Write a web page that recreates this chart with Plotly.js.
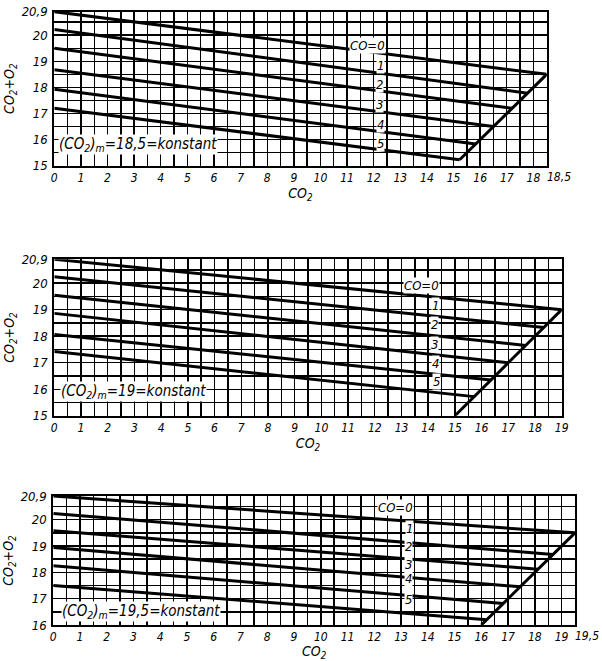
<!DOCTYPE html>
<html>
<head>
<meta charset="utf-8">
<script src="https://cdn.plot.ly/plotly-3.0.1.min.js"></script>
<style>html,body{margin:0;padding:0;background:#fff;}#chart{width:602px;height:661px;}</style>
</head>
<body>
<div id="chart"></div>
<script>
// ---- data ----
const coLevels = [0, 1, 2, 3, 4, 5];

// Panel 1: (CO2)m = 18.5
const p1Start = [20.9, 20.22, 19.5, 18.68, 17.93, 17.2];     // CO2+O2 at CO2 = 0
const p1EndCO2 = [18.5, 17.78, 17.2, 16.5, 15.83, 15.23];    // CO2 at end (O2 = 0)
const p1EndSum = [18.5, 17.78, 17.2, 16.5, 15.83, 15.23];
const p1Diag = { x: [18.5, 15.23], y: [18.5, 15.23] };

// Panel 2: (CO2)m = 19
const p2Start = [20.9, 20.24, 19.54, 18.86, 18.06, 17.42];
const p2EndCO2 = [19, 18.33, 17.65, 17.0, 16.35, 15.72];
const p2EndSum = [19, 18.33, 17.65, 17.0, 16.35, 15.72];
const p2Diag = { x: [19, 15], y: [19, 15] };

// Panel 3: (CO2)m = 19.5
const p3Start = [20.9, 20.24, 19.58, 18.94, 18.25, 17.5];
const p3EndCO2 = [19.5, 18.68, 18.12, 17.45, 16.82, 16.2];
const p3EndSum = [19.5, 18.68, 18.12, 17.45, 16.82, 16.2];
const p3Diag = { x: [19.5, 16], y: [19.5, 16] };

// tick labels (the half-value end labels are drawn left-aligned at the axis end)
const x1TickVals = [0,1,2,3,4,5,6,7,8,9,10,11,12,13,14,15,16,17,18];
const x1TickText = ['0','1','2','3','4','5','6','7','8','9','10','11','12','13','14','15','16','17','18'];
const x1EndTick = { value: 18.5, text: '18,5' };
const x2TickVals = [0,1,2,3,4,5,6,7,8,9,10,11,12,13,14,15,16,17,18,19];
const x2TickText = ['0','1','2','3','4','5','6','7','8','9','10','11','12','13','14','15','16','17','18','19'];
const x3TickVals = [0,1,2,3,4,5,6,7,8,9,10,11,12,13,14,15,16,17,18,19];
const x3TickText = ['0','1','2','3','4','5','6','7','8','9','10','11','12','13','14','15','16','17','18','19'];
const x3EndTick = { value: 19.5, text: '19,5' };
const y12TickVals = [15,16,17,18,19,20,20.9];
const y12TickText = ['15','16','17','18','19','20','20,9'];
const y3TickVals = [16,17,18,19,20,20.9];
const y3TickText = ['16','17','18','19','20','20,9'];

const coLabelText = ['CO=0', '1', '2', '3', '4', '5'];
const constLabels = ['(CO<sub>2</sub>)<sub>m</sub>=18,5=konstant', '(CO<sub>2</sub>)<sub>m</sub>=19=konstant', '(CO<sub>2</sub>)<sub>m</sub>=19,5=konstant'];

// ---- build traces ----
const traces = [];
function addPanel(start, endX, endY, diag, xa, ya) {
  coLevels.forEach((c, i) => {
    traces.push({
      x: [0, endX[i]], y: [start[i], endY[i]],
      xaxis: xa, yaxis: ya, mode: 'lines',
      line: { color: '#000', width: 3 }, hoverinfo: 'skip', name: 'CO=' + c
    });
  });
  traces.push({ x: diag.x, y: diag.y, xaxis: xa, yaxis: ya, mode: 'lines',
    line: { color: '#000', width: 3 }, hoverinfo: 'skip', name: 'O2=0' });
}
addPanel(p1Start, p1EndCO2, p1EndSum, p1Diag, 'x', 'y');
addPanel(p2Start, p2EndCO2, p2EndSum, p2Diag, 'x2', 'y2');
addPanel(p3Start, p3EndCO2, p3EndSum, p3Diag, 'x3', 'y3');

const FONT = 'DejaVu Sans Condensed, DejaVu Sans, sans-serif';
const tickFont = { family: FONT, size: 12, color: '#000', style: 'italic' };
const titleFont = { family: FONT, size: 14, color: '#000', style: 'italic' };

function xAxis(domain, max, anchor, tv, tt, standoff) {
  return {
    domain: domain, range: [0, max], anchor: anchor,
    tickmode: 'array', tickvals: tv, ticktext: tt, ticks: '', tickangle: 0,
    showgrid: true, gridcolor: '#000', gridwidth: 1.4,
    minor: { dtick: 0.5, tick0: 0, showgrid: true, gridcolor: '#000', gridwidth: 1.4, ticks: '' },
    zeroline: false, showline: true, linecolor: '#000', linewidth: 2, mirror: true,
    tickfont: tickFont, ticklabelstandoff: 0,
    title: { text: 'CO<sub>2</sub>', font: titleFont, standoff: standoff },
    fixedrange: true
  };
}
function yAxis(domain, min, anchor, tv, tt) {
  return {
    domain: domain, range: [min, 20.9], anchor: anchor,
    tickmode: 'array', tickvals: tv, ticktext: tt, ticks: '', tickangle: 0,
    showgrid: true, gridcolor: '#000', gridwidth: 1.4,
    minor: { dtick: 0.5, tick0: 15, showgrid: true, gridcolor: '#000', gridwidth: 1.4, ticks: '' },
    zeroline: false, showline: true, linecolor: '#000', linewidth: 2, mirror: true,
    tickfont: { family: FONT, size: 13, color: '#000', style: 'italic' }, ticklabelstandoff: 2,
    title: { text: 'CO<sub>2</sub>+O<sub>2</sub>', font: titleFont, standoff: 4 },
    fixedrange: true
  };
}

// label positions (data coords)
const coLabelPos = [
  { xa: 'x', ya: 'y', x: [11.75, 12.27, 12.2, 12.2, 12.27, 12.27], y: [19.62, 18.82, 18.13, 17.36, 16.56, 15.86] },
  { xa: 'x2', ya: 'y2', x: [13.76, 14.26, 14.22, 14.22, 14.26, 14.3], y: [19.93, 19.14, 18.45, 17.67, 16.98, 16.28] },
  { xa: 'x3', ya: 'y3', x: [12.81, 13.33, 13.27, 13.27, 13.27, 13.27], y: [20.45, 19.66, 18.97, 18.31, 17.77, 16.97] }
];
const constPos = [
  { xa: 'x', ya: 'y', x: 0.15, y: 15.8 },
  { xa: 'x2', ya: 'y2', x: 0.2, y: 15.9 },
  { xa: 'x3', ya: 'y3', x: 0.3, y: 16.5 }
];

const annotations = [];
coLabelPos.forEach(p => {
  coLabelText.forEach((t, i) => {
    annotations.push({ xref: p.xa, yref: p.ya, x: p.x[i], y: p.y[i], text: t, showarrow: false,
      font: { family: FONT, size: 13, color: '#000', style: 'italic' }, bgcolor: '#fff', borderpad: 0 });
  });
});
constPos.forEach((p, i) => {
  annotations.push({ xref: p.xa, yref: p.ya, x: p.x, y: p.y, xanchor: 'left', text: constLabels[i], showarrow: false,
    font: { family: FONT, size: 15, color: '#000', style: 'italic' }, bgcolor: '#fff', borderpad: 0 });
});
[[x1EndTick, 'x', 'y domain'], [x3EndTick, 'x3', 'y3 domain']].forEach(e => {
  annotations.push({ xref: e[1], yref: e[2], x: e[0].value, y: 0, xanchor: 'left', yanchor: 'top',
    xshift: -1, yshift: -3, text: e[0].text, showarrow: false, font: tickFont, borderpad: 0 });
});

const layout = {
  width: 602, height: 661,
  margin: { l: 0, r: 0, t: 0, b: 0 },
  paper_bgcolor: '#fff', plot_bgcolor: '#fff',
  showlegend: false,
  xaxis: xAxis([0.0902, 0.9081], 18.5, 'y', x1TickVals, x1TickText, 3),
  yaxis: yAxis([0.7493, 0.9823], 15, 'x', y12TickVals, y12TickText),
  xaxis2: xAxis([0.0902, 0.9331], 19, 'y2', x2TickVals, x2TickText, 3),
  yaxis2: yAxis([0.3711, 0.6077], 15, 'x2', y12TickVals, y12TickText),
  xaxis3: xAxis([0.0885, 0.9551], 19.5, 'y3', x3TickVals, x3TickText, 1),
  yaxis3: yAxis([0.0545, 0.2496], 16, 'x3', y3TickVals, y3TickText),
  annotations: annotations
};

Plotly.newPlot('chart', traces, layout, { displayModeBar: false, staticPlot: true });
</script>
</body>
</html>
